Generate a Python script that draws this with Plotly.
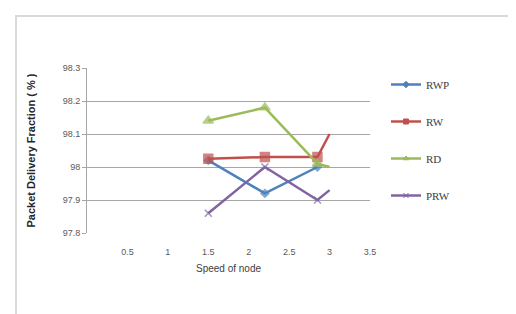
import plotly.graph_objects as go

speed = [1.5, 2.2, 2.85, 3.0]
rwp = [98.02, 97.92, 98.0, None]
rw = [98.025, 98.03, 98.03, 98.1]
rd = [98.14, 98.18, 98.01, 98.0]
prw = [97.86, 98.0, 97.9, 97.93]

series = [
    ("RWP", rwp, "#4F81BD", "diamond", [6, 6, 6, 6]),
    ("RW", rw, "#C0504D", "square", [9, 9, 9, 0]),
    ("RD", rd, "#9BBB59", "triangle-up", [9, 9, 9, 0]),
    ("PRW", prw, "#8064A2", "x-thin", [7, 7, 7, 0]),
]

fig = go.Figure()
for name, vals, color, sym, sizes in series:
    fig.add_trace(go.Scatter(
        x=speed, y=vals, name=name, mode="lines+markers",
        legendgroup=name, showlegend=False,
        line=dict(color=color, width=2.5),
        marker=dict(symbol=sym, size=sizes, color=color,
                    line=dict(color=color, width=1.5)),
    ))
    fig.add_trace(go.Scatter(
        x=[None], y=[None], name=name, mode="lines+markers",
        legendgroup=name, showlegend=True,
        line=dict(color=color, width=2.5),
        marker=dict(symbol=sym, size=5, color=color,
                    line=dict(color=color, width=1)),
    ))

W, H = 516, 314
L, R, T, B = 79, 362, 60, 225
pw, ph = R - L, B - T

def px(xp):
    return (xp - L) / pw

def py(yp):
    return (B - yp) / ph

fig.add_shape(type="rect", xref="paper", yref="paper",
              x0=px(8), x1=px(530), y0=py(311), y1=py(8),
              line=dict(color="#d9d9d9", width=2), fillcolor="rgba(0,0,0,0)")

fig.update_layout(
    width=W, height=H,
    margin=dict(l=L, r=W - R, t=T, b=H - B),
    paper_bgcolor="white", plot_bgcolor="white",
    font=dict(family="Liberation Sans, Arial, sans-serif", color="#595959", size=9),
    showlegend=True,
    legend=dict(x=px(378), y=py(62), xanchor="left", yanchor="top",
                font=dict(family="Liberation Serif, Times New Roman, serif", size=11, color="#404040"),
                tracegroupgap=18, itemwidth=30, bgcolor="rgba(0,0,0,0)"),
    xaxis=dict(range=[0, 3.5], tickvals=[0.5, 1, 1.5, 2, 2.5, 3, 3.5],
               ticktext=["0.5", "1", "1.5", "2", "2.5", "3", "3.5"],
               showgrid=False, zeroline=False, showline=False, ticks="",
               ticklabelstandoff=12,
               tickfont=dict(size=9, color="#595959"),
               title=dict(text="Speed of node", standoff=8,
                          font=dict(size=10, color="#404040"))),
    yaxis=dict(range=[97.8, 98.3],
               tickvals=[97.8, 97.9, 98.0, 98.1, 98.2, 98.3],
               ticktext=["97.8", "97.9", "98", "98.1", "98.2", "98.3"],
               showgrid=True, gridcolor="#a6a6a6", gridwidth=1,
               zeroline=False, showline=True, linecolor="#a6a6a6", linewidth=1,
               ticks="outside", ticklen=4, tickcolor="#a6a6a6",
               tickfont=dict(size=9, color="#595959"),
               title=dict(text="<b>Packet Delivery Fraction ( % )</b>", standoff=24,
                          font=dict(size=11, color="#262626"))),
)

fig.write_html("out.html")
